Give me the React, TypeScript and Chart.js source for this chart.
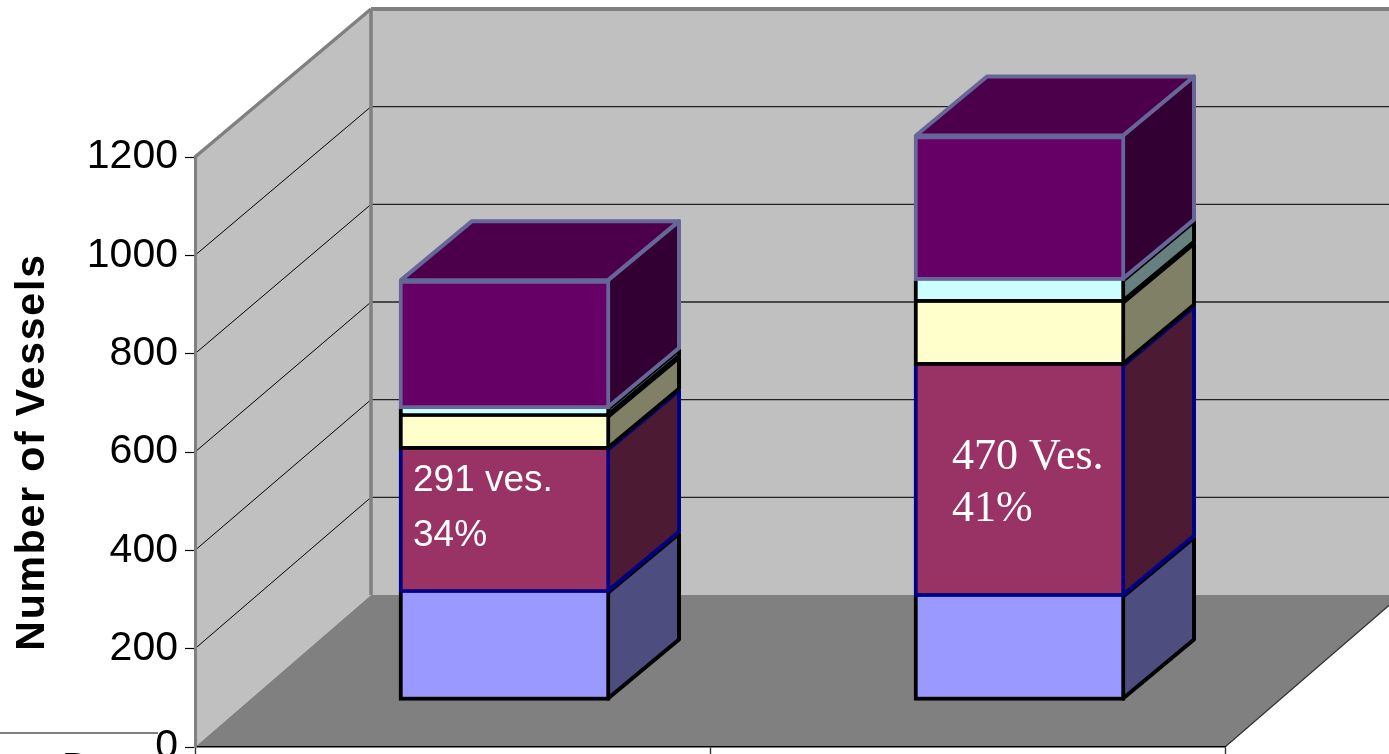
import React, { useEffect, useRef } from "react";
import { Chart, registerables } from "chart.js";

Chart.register(...registerables);

const columns = ["Column 1", "Column 2"];
const lowerValues = [220, 212];
const middleValues = [291, 470];
const paleYellowValues = [67, 128];
const paleCyanValues = [16, 45];
const purpleValues = [262, 295];
const yTicks = [0, 200, 400, 600, 800, 1000, 1200];
const yTitle = "Number of Vessels";
const columnNotes = [["291 ves.", "34%"], ["470 Ves.", "41%"]];

const FRONT = "#9999FF,#993366,#FFFFCC,#CCFFFF,#660066".split(",");
const SIDE = "#4D4D80,#4D1A33,#808066,#668080,#330033".split(",");
const EDGE = "#000000,#000080,#000000,#000000,#666699".split(",");

// 3D projection constants of the box
const WALL_DX = 176;
const FLOOR_BACK_Y = 595;
const WALL_SCALE = 586 / 590;
const BAR_DX = 52;
const BAR_DY = -46;
const SIDE_DX = 71;
const SIDE_DY = -59;
const EDGE_W = 4;

const poly = (ctx: CanvasRenderingContext2D, pts: number[][], fill?: string, stroke?: string, lw = 3) => {
  ctx.beginPath();
  pts.forEach((p, i) => (i ? ctx.lineTo(p[0], p[1]) : ctx.moveTo(p[0], p[1])));
  ctx.closePath();
  if (fill) { ctx.fillStyle = fill; ctx.fill(); }
  if (stroke) { ctx.strokeStyle = stroke; ctx.lineWidth = lw; ctx.lineJoin = "round"; ctx.stroke(); }
};
const line = (ctx: CanvasRenderingContext2D, x1: number, y1: number, x2: number, y2: number, color: string, lw: number) => {
  ctx.beginPath();
  ctx.moveTo(x1, y1);
  ctx.lineTo(x2, y2);
  ctx.strokeStyle = color;
  ctx.lineWidth = lw;
  ctx.stroke();
};

const box3d = {
  id: "box3d",
  beforeDraw(chart: any) {
    const { ctx, chartArea: a, scales } = chart;
    const y = scales.y;
    const backY = (py: number) => FLOOR_BACK_Y + (py - a.bottom) * WALL_SCALE;
    const bx = a.left + WALL_DX;
    const far = a.right + WALL_DX;
    ctx.save();
    poly(ctx, [[a.left, a.top], [bx, backY(a.top)], [bx, FLOOR_BACK_Y], [a.left, a.bottom]], "#C0C0C0");
    poly(ctx, [[bx, backY(a.top)], [far, backY(a.top)], [far, FLOOR_BACK_Y], [bx, FLOOR_BACK_Y]], "#C0C0C0");
    yTicks.slice(1, -1).forEach((v) => {
      const py = y.getPixelForValue(v);
      line(ctx, a.left, py, bx, backY(py), "#000000", 1);
      line(ctx, bx, backY(py), far, backY(py), "#222222", 1.4);
    });
    line(ctx, bx, backY(a.top), far, backY(a.top), "#808080", 4);
    line(ctx, a.left, a.top, bx, backY(a.top), "#808080", 3.5);
    line(ctx, bx, backY(a.top), bx, FLOOR_BACK_Y, "#808080", 3.5);
    poly(ctx, [[a.left, a.bottom], [bx, FLOOR_BACK_Y], [far, FLOOR_BACK_Y], [a.right, a.bottom]], "#808080");
    line(ctx, a.right, a.bottom, far, FLOOR_BACK_Y, "#333333", 1.2);
    ctx.restore();
  },
  beforeDatasetsDraw(chart: any) {
    const { ctx } = chart;
    ctx.save();
    ctx.translate(BAR_DX, BAR_DY);
    const count = chart.data.datasets.length;
    for (let d = 0; d < count; d++) {
      chart.getDatasetMeta(d).data.forEach((b: any) => {
        const r = b.x + b.width / 2 - EDGE_W / 2;
        const l = b.x - b.width / 2 + EDGE_W / 2;
        const base = b.base - EDGE_W / 2;
        poly(ctx, [[r, b.y], [r + SIDE_DX, b.y + SIDE_DY], [r + SIDE_DX, base + SIDE_DY], [r, base]], SIDE[d], EDGE[d], EDGE_W);
        if (d === count - 1) {
          poly(ctx, [[l, b.y], [l + SIDE_DX, b.y + SIDE_DY], [r + SIDE_DX, b.y + SIDE_DY], [r, b.y]], "#4C004C", EDGE[d], EDGE_W);
        }
      });
    }
    ctx.restore();
  },
  beforeDatasetDraw(chart: any) {
    chart.ctx.save();
    chart.ctx.translate(BAR_DX, BAR_DY);
  },
  afterDatasetDraw(chart: any) {
    chart.ctx.restore();
  },
  afterDraw(chart: any) {
    const { ctx, chartArea: a } = chart;
    ctx.save();
    ctx.fillStyle = "#FFFFFF";
    ctx.textAlign = "left";
    ctx.textBaseline = "alphabetic";
    chart.getDatasetMeta(1).data.forEach((b: any, i: number) => {
      const left = b.x - b.width / 2 + BAR_DX;
      const mid = (b.y + b.base) / 2 + BAR_DY;
      if (i === 0) {
        ctx.font = "37px 'Liberation Sans'";
        ctx.fillText(columnNotes[i][0], left + 14, mid - 30);
        ctx.fillText(columnNotes[i][1], left + 14, mid + 25);
      } else {
        ctx.font = "44px 'Liberation Serif'";
        ctx.fillText(columnNotes[i][0], left + 38, mid - 12);
        ctx.fillText(columnNotes[i][1], left + 38, mid + 40);
      }
    });
    // Top of the legend box that the photograph cuts off
    line(ctx, 0, a.bottom - 14, 158, a.bottom - 14, "#555555", 1.4);
    ctx.fillStyle = "#000000";
    ctx.font = "40px 'Liberation Sans'";
    ctx.fillText("D", 62, a.bottom + 34);
    // Axis title, with the open letter spacing of the reference
    ctx.translate(33, (a.top + a.bottom) / 2);
    ctx.rotate(-Math.PI / 2);
    ctx.textAlign = "center";
    ctx.textBaseline = "middle";
    ctx.font = "bold 41px 'Liberation Sans'";
    (ctx as any).letterSpacing = "1.8px";
    ctx.fillText(yTitle, 0, 0);
    (ctx as any).letterSpacing = "0px";
    ctx.restore();
  },
};

export default function App() {
  const ref = useRef<HTMLCanvasElement | null>(null);
  useEffect(() => {
    document.body.style.margin = "0";
    document.body.style.background = "#FFFFFF";
    const series = [lowerValues, middleValues, paleYellowValues, paleCyanValues, purpleValues];
    const chart = new Chart(ref.current as HTMLCanvasElement, {
      type: "bar",
      data: {
        labels: columns,
        datasets: series.map((data, d) => ({
          data,
          backgroundColor: FRONT[d],
          borderColor: EDGE[d],
          borderSkipped: false,
          borderWidth: { left: EDGE_W, right: EDGE_W, bottom: EDGE_W, top: d === series.length - 1 ? EDGE_W : 0 },
          barThickness: 211,
          clip: false,
        })),
      } as any,
      options: {
        responsive: false,
        animation: false,
        devicePixelRatio: 1,
        layout: { padding: { left: 0, top: 157, right: 164, bottom: 0 } },
        plugins: { legend: { display: false }, tooltip: { enabled: false }, title: { display: false } },
        scales: {
          x: {
            stacked: true,
            offset: true,
            ticks: { display: false },
            grid: { offset: true, drawOnChartArea: false, drawTicks: true, tickLength: 7, tickColor: "#333333", tickWidth: 1.4 },
            border: { color: "#000000", width: 1.6 },
            afterFit(s: any) { s.height = 7; s.paddingLeft = 0; s.paddingRight = 0; },
          },
          y: {
            stacked: true,
            min: 0,
            max: 1200,
            afterBuildTicks(s: any) { s.ticks = yTicks.map((value) => ({ value })); },
            ticks: {
              autoSkip: false,
              padding: 7,
              color: "#000000",
              font: { family: "'Liberation Sans'", size: 41 },
              callback: (v: any) => String(v),
            },
            grid: { drawOnChartArea: false, tickLength: 10, tickColor: "#000000", tickWidth: 1.2 },
            border: { color: "#808080", width: 3 },
            afterFit(s: any) { s.width = 195; s.paddingTop = 0; s.paddingBottom = 0; },
          },
        },
      } as any,
      plugins: [box3d],
    });
    return () => chart.destroy();
  }, []);
  return <canvas ref={ref} width={1389} height={754} style={{ display: "block" }} />;
}
